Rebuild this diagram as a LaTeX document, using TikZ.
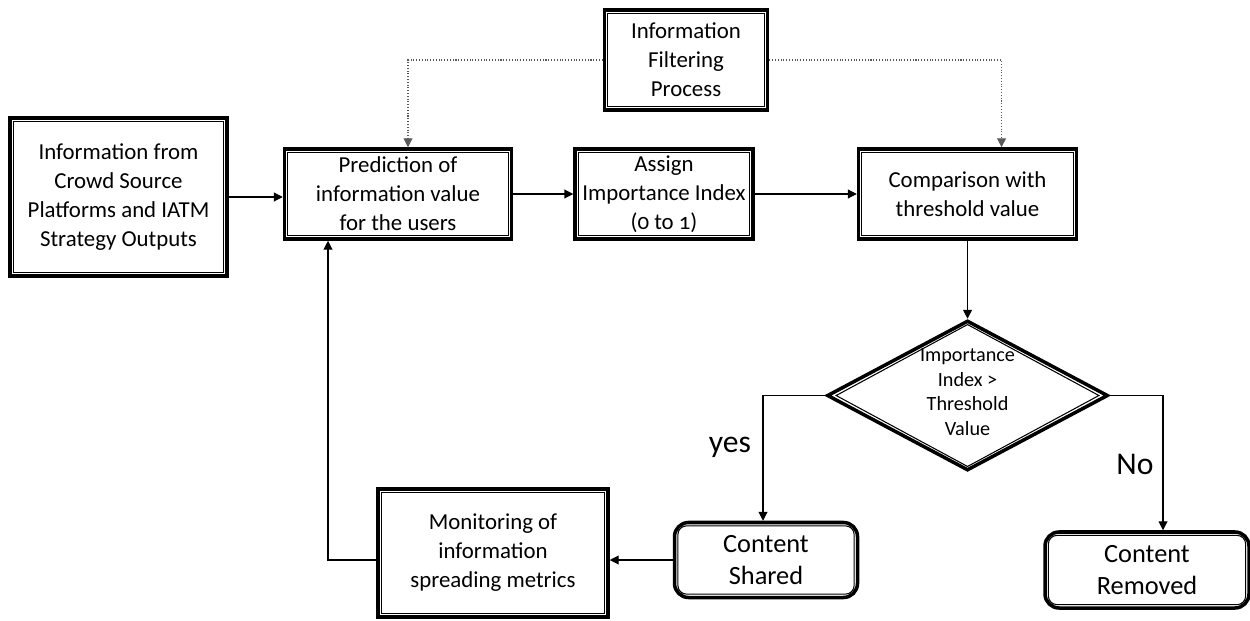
\documentclass[tikz,border=0pt]{standalone}
\usepackage{fontspec}
\setmainfont{Carlito}[Numbers=OldStyle]
\usetikzlibrary{arrows.meta,positioning,calc,shapes.geometric}

\tikzset{
  dframe/.style={draw, line width=2pt, rectangle, align=center, inner sep=2pt,
    font=\fontsize{13}{16.5}\selectfont},
  roundframe/.style={dframe, rounded corners=8pt, font=\fontsize{15}{18}\selectfont},
  inner rule/.style={line width=0.6pt},
  flow/.style={-{Triangle[length=5pt,width=5pt]}, line width=0.6pt},
  feed/.style={flow, densely dotted, gray!70!black},
  tag/.style={font=\fontsize{18}{21}\selectfont},
}

\begin{document}
\begin{tikzpicture}
\useasboundingbox (0,0) rectangle (25,12.4);
% --- top row ---
\node[dframe, minimum width=4.34cm, minimum height=3.16cm] (src) at (2.37,8.46) {Information from\\Crowd Source\\Platforms and IATM\\Strategy Outputs};
\node[dframe, minimum width=4.54cm, minimum height=1.8cm] (pred) at (7.96,8.52) {Prediction of\\information value\\for the users};
\node[dframe, minimum width=3.56cm, minimum height=1.8cm, right=1.2cm of pred] (assign) {Assign\\Importance Index\\(0 to 1)};
\node[dframe, minimum width=4.36cm, minimum height=1.8cm, right=2.04cm of assign] (comp) {Comparison with\\threshold value};
\node[dframe, minimum width=3.26cm, minimum height=2.0cm] (filt) at (13.72,11.2) {Information\\Filtering\\Process};
% --- decision ---
\node[draw, diamond, line width=2pt, minimum width=5.62cm, minimum height=3cm, inner sep=0pt,
  below=1.56cm of comp,
  label={[align=center, font=\fontsize{11.5}{14}\selectfont, yshift=2pt]center:Importance\\Index >\\Threshold\\Value}] (dia) {};
% --- bottom row ---
\node[roundframe, minimum width=3.66cm, minimum height=1.5cm] (shared) at (15.32,1.2) {Content\\Shared};
\node[roundframe, minimum width=4.08cm, minimum height=1.52cm] (removed) at (22.94,1.0) {Content\\Removed};
\node[dframe, minimum width=4.6cm, minimum height=2.56cm] (mon) at (9.86,1.34) {Monitoring of\\information\\spreading metrics};
% --- inner rules of the double frames ---
\foreach \n in {src,pred,assign,comp,filt,mon}
  \draw[inner rule] ($(\n.south west)+(2.9pt,2.9pt)$) rectangle ($(\n.north east)-(2.9pt,2.9pt)$);
\foreach \n in {shared,removed}
  \draw[inner rule, rounded corners=5pt] ($(\n.south west)+(2.9pt,2.9pt)$) rectangle ($(\n.north east)-(2.9pt,2.9pt)$);
\draw[inner rule] ($(dia.north)+(0,-3.3pt)$) -- ($(dia.east)+(-6.2pt,0)$) -- ($(dia.south)+(0,3.3pt)$) -- ($(dia.west)+(6.2pt,0)$) -- cycle;
% --- connectors ---
\coordinate (predin) at ($(pred.north)+(0.2,0)$);
\coordinate (compin) at ($(comp.north)+(0.68,0)$);
\coordinate (predback) at ($(pred.south)+(-1.4,0)$);
\coordinate (sharein) at ($(shared.north)+(-0.06,0)$);
\coordinate (remin) at ($(removed.north)+(0.32,0)$);
\draw[flow] (src.east) -- (src.east -| pred.west);
\draw[flow] (pred) -- (assign);
\draw[flow] (assign) -- (comp);
\draw[flow] (comp) -- (dia);
\draw[feed] (filt.west) -| (predin);
\draw[feed] (filt.east) -| (compin);
\draw[flow] (dia.west) -| (sharein);
\draw[flow] (dia.east) -| (remin);
\draw[flow] (shared.west) -- (shared.west -| mon.east);
\draw[flow] (mon.west |- shared.west) -| (predback);
\node[tag] (yes) at (14.6,3.46) {yes};
\node[tag] (no) at (22.7,3.12) {No};
\end{tikzpicture}
\end{document}
